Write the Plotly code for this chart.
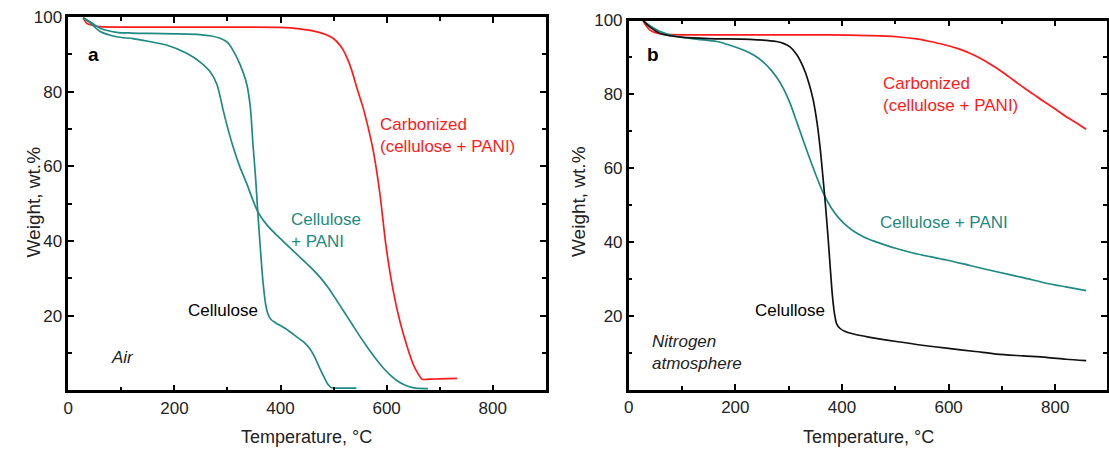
import plotly.graph_objects as go

# ---- Panel a: TGA in air ----
air_cell_T = [28, 40, 60, 91, 120, 154, 200, 248, 270, 286, 300, 310, 323, 336, 343, 348, 353, 357,
              362, 367, 372, 376, 382, 392, 410, 430, 445, 455, 463, 470, 477, 484, 490, 496, 505, 520, 543]
air_cell_W = [99.8, 98.8, 97.0, 95.9, 95.7, 95.6, 95.5, 95.3, 94.9, 94.3, 93.2, 91.2, 87.5, 82.2, 76, 66, 57, 48,
              38, 29, 23, 20.6, 19, 18, 16.5, 14.4, 12.8, 11.2, 9.3, 7.2, 5, 3, 1.5, 0.7, 0.6, 0.6, 0.6]

air_pani_T = [28, 40, 60, 91, 122, 150, 185, 223, 248, 267, 280, 292, 300, 310, 323, 336, 346, 357, 375,
              395, 415, 435, 455, 475, 490, 505, 520, 535, 550, 565, 580, 595, 610, 625, 640, 655, 678]
air_pani_W = [99.8, 98.6, 96.1, 94.7, 94.2, 93.5, 92.5, 90.3, 88, 85.4, 82, 75, 70.5, 65.5, 60, 55.5, 51.7, 47.9, 44.2,
              41.3, 38.6, 35.9, 33.2, 30.2, 27.5, 24.3, 21, 17.7, 14.4, 11.3, 8.4, 5.8, 3.7, 2.1, 1.1, 0.6, 0.5]

air_carb_T = [28, 35, 45, 60, 100, 200, 300, 400, 436, 467, 485, 499, 510, 518, 527, 536, 545, 555, 565,
              575, 587, 599, 612, 625, 638, 650, 660, 667, 680, 700, 733]
air_carb_W = [99.8, 98.3, 97.8, 97.4, 97.3, 97.3, 97.3, 97.2, 96.8, 96.1, 95.3, 94.3, 92.8, 91.2, 88.5, 84.9, 80.5, 76, 70.5,
              64, 53, 38.5, 27, 18.5, 12, 7, 4.3, 3.0, 3.0, 3.1, 3.2]

# ---- Panel b: TGA in nitrogen ----
n2_carb_T = [27, 33, 40, 50, 65, 102, 200, 300, 377, 450, 502, 540, 565, 590, 615, 640, 660, 680, 700, 720,
             740, 760, 780, 800, 820, 840, 858]
n2_carb_W = [100, 98.5, 97.4, 96.7, 96.3, 96.1, 96.1, 96.1, 96.1, 95.9, 95.6, 95.0, 94.3, 93.5, 92.5, 91.1, 89.7, 88.0,
             86.1, 84.0, 81.9, 79.9, 77.9, 76.0, 74.0, 72.2, 70.5]

n2_cell_T = [27, 40, 59, 80, 102, 150, 227, 277, 290, 302, 315, 327, 337, 346, 353, 359, 364, 369, 374, 378,
             382, 386, 390, 396, 405, 420, 450, 502, 550, 596, 650, 690, 740, 783, 820, 858]
n2_cell_W = [100, 98.2, 96.5, 95.8, 95.4, 95.1, 94.9, 94.3, 93.8, 92.9, 90.8, 87.5, 83.5, 78.5, 72.5, 65.5, 58, 50, 41, 33,
             25.5, 20.5, 17.8, 16.6, 15.8, 15.1, 14.2, 13, 12, 11.2, 10.3, 9.6, 9.1, 8.7, 8.2, 7.8]

n2_pani_T = [27, 40, 59, 80, 102, 130, 165, 190, 215, 235, 252, 265, 278, 290, 302, 315, 327, 340, 352, 365,
             380, 395, 410, 425, 440, 460, 480, 502, 533, 565, 596, 640, 690, 740, 783, 820, 858]
n2_pani_W = [100, 98.6, 97, 96, 95.4, 94.9, 94.3, 93.3, 92, 90.6, 88.8, 86.9, 84.5, 81.6, 77.8, 72.6, 67.6, 62.4, 57.8, 53.2,
             49.2, 46.3, 44.2, 42.6, 41.4, 40.2, 39.2, 38.2, 37, 36, 35.1, 33.6, 31.9, 30.3, 28.8, 27.8, 26.8]

x_ticks = [0, 200, 400, 600, 800]
y_ticks = [20, 40, 60, 80, 100]

TEAL = "#1f8a82"
RED = "#ff1a1a"
BLACK = "#111111"
FONT = "Liberation Sans, Arial, sans-serif"

fig = go.Figure()


def add_curve(x, y, color, xa, ya):
    fig.add_trace(go.Scatter(
        x=x, y=y, mode="lines", xaxis=xa, yaxis=ya,
        line=dict(color=color, width=1.7, shape="spline", smoothing=0.8),
        showlegend=False, hoverinfo="skip",
    ))


add_curve(air_carb_T, air_carb_W, RED, "x", "y")
add_curve(air_cell_T, air_cell_W, TEAL, "x", "y")
add_curve(air_pani_T, air_pani_W, TEAL, "x", "y")

add_curve(n2_carb_T, n2_carb_W, RED, "x2", "y2")
add_curve(n2_pani_T, n2_pani_W, TEAL, "x2", "y2")
add_curve(n2_cell_T, n2_cell_W, BLACK, "x2", "y2")

W, H = 1109, 454

axis_common = dict(
    showline=True, linecolor="black", linewidth=2.5, mirror="ticks",
    ticks="inside", ticklen=6, tickwidth=2, tickcolor="black",
    showgrid=False, zeroline=False, automargin=False,
    tickfont=dict(family=FONT, size=17, color="#222222"),
)

xaxis_style = dict(axis_common, tickmode="array", tickvals=x_ticks,
                   minor=dict(ticks="inside", ticklen=4, tickwidth=1.5, tickcolor="black",
                              tickmode="array", tickvals=[100, 300, 500, 700]))
yaxis_style = dict(axis_common, tickmode="array", tickvals=y_ticks,
                   minor=dict(ticks="inside", ticklen=4, tickwidth=1.5, tickcolor="black",
                              tickmode="array", tickvals=[10, 30, 50, 70, 90]))

fig.update_layout(
    width=W, height=H,
    margin=dict(l=0, r=0, t=0, b=0, autoexpand=False),
    paper_bgcolor="white", plot_bgcolor="white",
    font=dict(family=FONT, size=17, color="#222222"),
    xaxis=dict(xaxis_style, domain=[68.3 / W, 545.8 / W], range=[0, 900], anchor="y"),
    yaxis=dict(yaxis_style, domain=[(H - 390.4) / H, (H - 17) / H], range=[0, 100], anchor="x"),
    xaxis2=dict(xaxis_style, domain=[628.7 / W, 1107 / W], range=[0, 897], anchor="y2"),
    yaxis2=dict(yaxis_style, domain=[(H - 389.5) / H, (H - 20.5) / H], range=[0, 100], anchor="x2"),
)


def px_note(text, x, y, color="#222222", size=17, xanchor="center", italic=False, bold=False):
    if italic:
        text = "<i>" + text.replace("<br>", "</i><br><i>") + "</i>"
    if bold:
        text = "<b>" + text + "</b>"
    fig.add_annotation(
        text=text, x=x / W, y=1 - y / H, xref="paper", yref="paper",
        xanchor=xanchor, yanchor="middle", showarrow=False, align="left",
        font=dict(family=FONT, size=size, color=color),
    )


# axis titles
px_note("Temperature, °C", 306, 437, size=18)
px_note("Temperature, °C", 868, 437, size=18)
fig.add_annotation(text="Weight, wt.%", x=20 / W, y=1 - 202 / H, xref="paper", yref="paper",
                   showarrow=False, textangle=-90, font=dict(family=FONT, size=19, color="#222222"))
fig.add_annotation(text="Weight, wt.%", x=578 / W, y=1 - 202 / H, xref="paper", yref="paper",
                   showarrow=False, textangle=-90, font=dict(family=FONT, size=19, color="#222222"))

# panel a labels
px_note("a", 93, 54, color="black", size=19, bold=True)
px_note("Air", 122, 357, italic=True)
px_note("Cellulose", 223, 310, color="black")
px_note("Cellulose<br>+ PANI", 289, 230, color=TEAL, xanchor="left")
px_note("Carbonized<br>(cellulose + PANI)", 378, 135, color=RED, xanchor="left")

# panel b labels
px_note("b", 653, 55, color="black", size=19, bold=True)
px_note("Carbonized<br>(cellulose + PANI)", 881, 95, color=RED, xanchor="left")
px_note("Cellulose + PANI", 878, 222, color=TEAL, xanchor="left")
px_note("Celullose", 790, 310, color="black")
px_note("Nitrogen<br>atmosphere", 650, 352, xanchor="left", italic=True)

fig.write_html("out.html")
